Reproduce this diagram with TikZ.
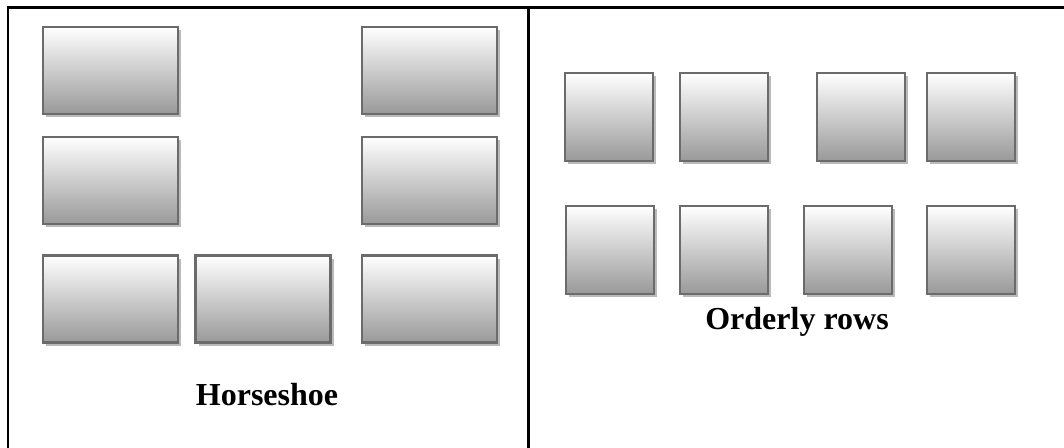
\documentclass[tikz,border=0pt]{standalone}
\usepackage{fontspec}
\setmainfont{Liberation Serif}
\usetikzlibrary{shadows}
\begin{document}
\begin{tikzpicture}[x=0.75pt,y=-0.75pt,
  desk/.style={rectangle, inner sep=0pt, outer sep=0pt, draw=black!58, line width=2pt,
    top color=white, bottom color=black!40,
    drop shadow={shadow xshift=2.4pt, shadow yshift=-2.4pt, fill=black!27, opacity=1}},
  wide/.style={desk, minimum width=101.25pt, minimum height=65.25pt},
  square/.style={desk, minimum width=66pt, minimum height=66pt},
  caption/.style={font=\bfseries\fontsize{24}{28}\selectfont, anchor=base, inner sep=0pt},
  rule/.style={line width=1.6pt, black}]
\useasboundingbox (0,0) rectangle (1064,448);
\draw[rule] (8,448) -- (8,7.5) -- (1064,7.5);
\draw[rule] (528.5,7.5) -- (528.5,448);
% Horseshoe
\node[wide] (h1) at (110.5,70.5) {};
\node[wide] (h2) at (429.5,70.5) {};
\node[wide] (h3) at (110.5,180.5) {};
\node[wide] (h4) at (429.5,180.5) {};
\node[wide] (h5) at (110.5,299) {};
\node[wide] (h6) at (263,299) {};
\node[wide] (h7) at (429.5,299) {};
\node[caption] (hl) at (267,406) {Horseshoe};
% Orderly rows
\node[square] (o1) at (609,117) {};
\node[square] (o2) at (724,117) {};
\node[square] (o3) at (861,117) {};
\node[square] (o4) at (971,117) {};
\node[square] (o5) at (610,250) {};
\node[square] (o6) at (724,250) {};
\node[square] (o7) at (848,250) {};
\node[square] (o8) at (971,250) {};
\node[caption] (ol) at (797,330) {Orderly rows};
\end{tikzpicture}
\end{document}
